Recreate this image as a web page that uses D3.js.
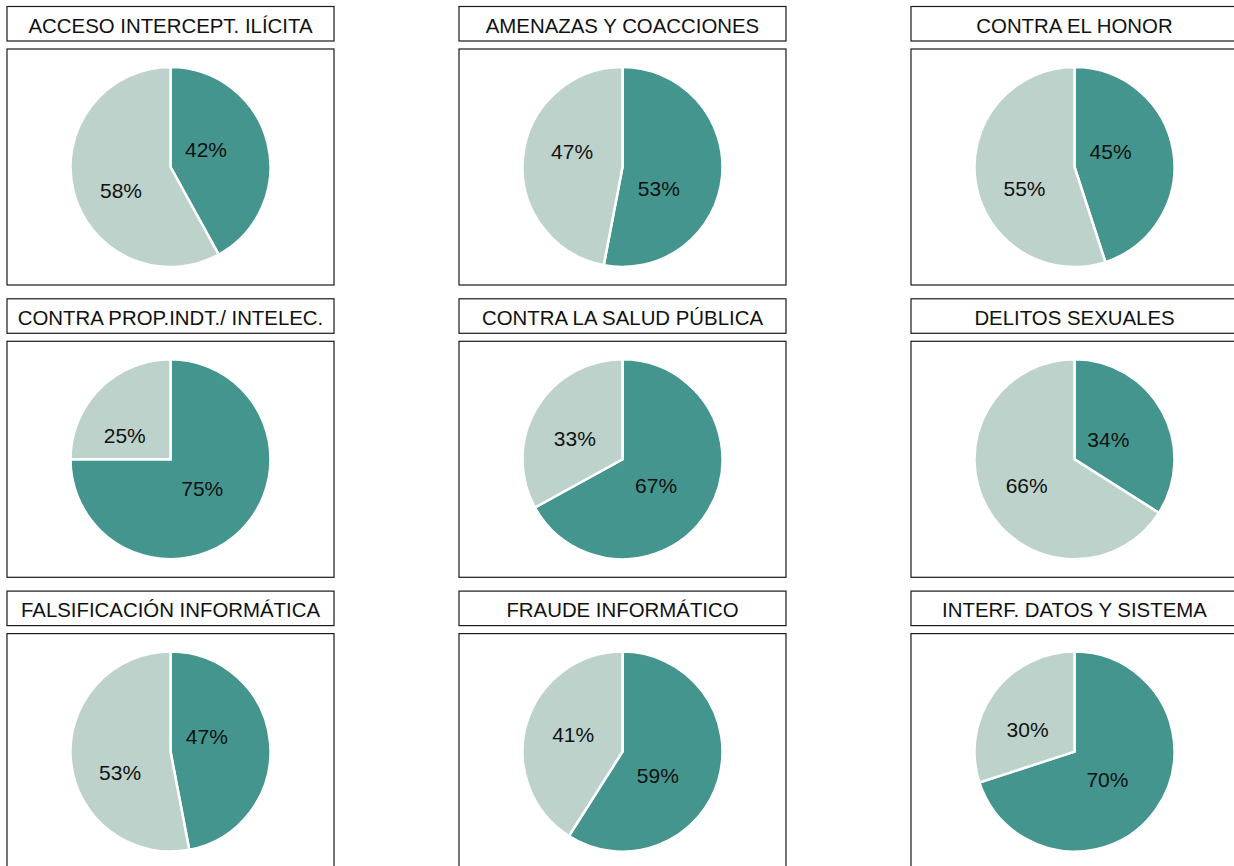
<!DOCTYPE html>
<html>
<head>
<meta charset="utf-8">
<script src="https://cdn.jsdelivr.net/npm/d3@7/dist/d3.min.js"></script>
<style>
  html, body { margin: 0; padding: 0; background: #ffffff; }
  svg { display: block; }
  text { font-family: "Liberation Sans", Arial, Helvetica, sans-serif; fill: #111111; }
</style>
</head>
<body>
<svg id="chart" width="1234" height="866"></svg>
<script>
// ---- data ----
const categories = [
  "ACCESO INTERCEPT. ILÍCITA",
  "AMENAZAS Y COACCIONES",
  "CONTRA EL HONOR",
  "CONTRA PROP.INDT./ INTELEC.",
  "CONTRA LA SALUD PÚBLICA",
  "DELITOS SEXUALES",
  "FALSIFICACIÓN INFORMÁTICA",
  "FRAUDE INFORMÁTICO",
  "INTERF. DATOS Y SISTEMA"
];
const seriesNames = ["A", "B"];
const seriesA = [42, 53, 45, 75, 67, 34, 47, 59, 70];   // teal share (%)
const seriesB = [58, 47, 55, 25, 33, 66, 53, 41, 30];   // light share (%)

// ---- layout ----
const svg = d3.select("#chart");
const ncol = 3;
const colX = d3.scaleLinear().domain([0, 1]).range([7, 459]);     // column left edges
const rowY = d3.scaleLinear().domain([0, 1]).range([6.5, 298.8]); // row (strip) top edges
const panelW = 327, stripH = 34.5, gap = 8, panelH = 236;
const radius = 100;

const color = d3.scaleOrdinal().domain(seriesNames).range(["#43958d", "#bcd2cb"]);
const pie = d3.pie().sort(null).value(d => d.value);
const arc = d3.arc().innerRadius(0).outerRadius(radius);

// label placement: slice mid-angle, compressed towards a band around the horizontal
function labelPos(d) {
  const mid = (d.startAngle + d.endAngle) / 2 * 180 / Math.PI;
  const h = mid < 180 ? 90 : 270;
  const s = mid - h;
  const sign = s < 0 ? -1 : 1;
  const m = 21 + 0.3 * Math.abs(s);
  const a = (h + sign * m) * Math.PI / 180;
  const r = 47;
  return [-7 + r * Math.sin(a), 3 - r * Math.cos(a)];
}

categories.forEach((cat, i) => {
  const c = i % ncol, r = Math.floor(i / ncol);
  const x0 = colX(c), y0 = rowY(r);
  const g = svg.append("g").attr("transform", `translate(${x0},${y0})`);

  // strip
  g.append("rect")
    .attr("x", 0).attr("y", 0).attr("width", panelW).attr("height", stripH)
    .attr("fill", "#ffffff").attr("stroke", "#1a1a1a").attr("stroke-width", 1.2);
  g.append("text")
    .attr("x", panelW / 2).attr("y", stripH / 2)
    .attr("dy", "0.43em")
    .attr("text-anchor", "middle")
    .style("font-size", "20.4px")
    .text(cat);

  // panel
  const py = stripH + gap;
  g.append("rect")
    .attr("x", 0).attr("y", py).attr("width", panelW).attr("height", panelH)
    .attr("fill", "#ffffff").attr("stroke", "#1a1a1a").attr("stroke-width", 1.2);

  const data = [
    { key: seriesNames[0], value: seriesA[i] },
    { key: seriesNames[1], value: seriesB[i] }
  ];
  const arcs = pie(data);
  const pg = g.append("g").attr("transform", `translate(${panelW / 2},${py + panelH / 2})`);
  pg.selectAll("path").data(arcs).join("path")
    .attr("d", arc)
    .attr("fill", d => color(d.data.key))
    .attr("stroke", "#ffffff")
    .attr("stroke-width", 2.5)
    .attr("stroke-linejoin", "miter");
  pg.selectAll("text").data(arcs).join("text")
    .attr("transform", d => `translate(${labelPos(d)})`)
    .attr("dy", "0.36em")
    .attr("text-anchor", "middle")
    .style("font-size", "21px")
    .text(d => d.data.value + "%");
});
</script>
</body>
</html>
